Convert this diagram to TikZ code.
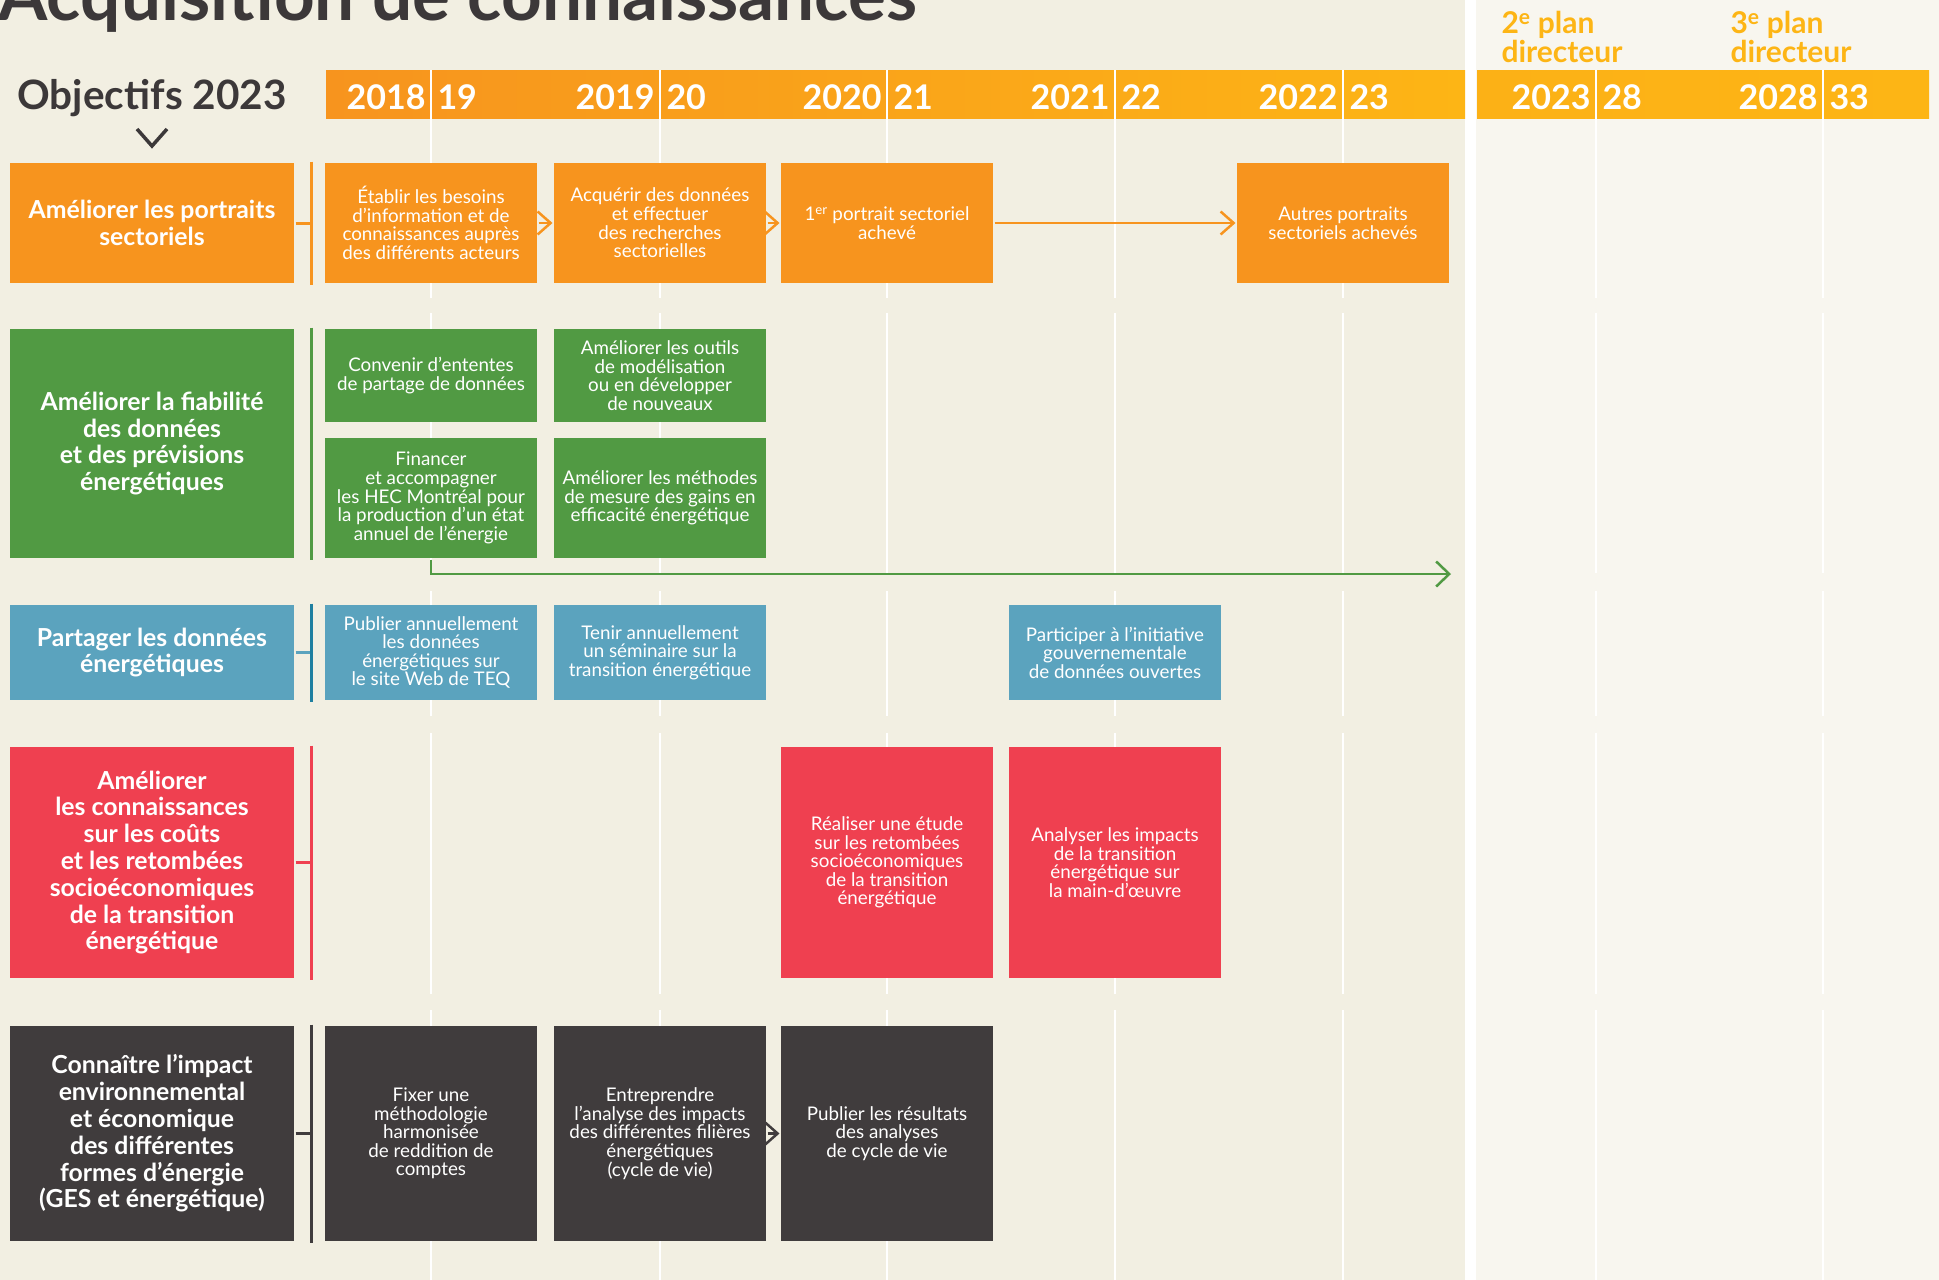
\documentclass[tikz,border=0pt]{standalone}
\usepackage{fontspec}
\setmainfont{Lato}
\usetikzlibrary{arrows.meta}

\definecolor{bgleft}{HTML}{F2EFE2}
\definecolor{bgright}{HTML}{F8F6EF}
\definecolor{teqorange}{HTML}{F7941E}
\definecolor{teqyellow}{HTML}{FDB515}
\definecolor{teqgreen}{HTML}{519A43}
\definecolor{teqblue}{HTML}{5BA3BE}
\definecolor{teqbluedark}{HTML}{1F7FA0}
\definecolor{teqred}{HTML}{EF4050}
\definecolor{teqdark}{HTML}{403C3D}
\definecolor{teqtext}{HTML}{3C3839}

\begin{document}
\begin{tikzpicture}[x=1pt, y=-1pt, line width=3pt,
    objbox/.style={minimum width=284pt, inner sep=0pt, align=center, text=white,
      font=\bfseries\fontsize{24.8}{26.8}\selectfont},
    actbox/.style={minimum width=212pt, inner sep=0pt, align=center, text=white,
      font=\fontsize{18.8}{18.6}\selectfont},
    yearlbl/.style={inner sep=0pt, text=white, font=\bfseries\fontsize{34}{34}\selectfont},
    planlbl/.style={inner sep=0pt, align=left, text=teqyellow, font=\bfseries\fontsize{30}{25}\selectfont},
    chev/.style={-{Straight Barb[length=13pt, width=23pt]}, line width=2.5pt}]

    \useasboundingbox (0,0) rectangle (1939,1280);
    \clip (0,0) rectangle (1939,1280);

    % draw the two backgrounds
    \fill[bgleft] (0,0) rectangle (1465,1280);
    \fill[white] (1465,0) rectangle (1476,1280);
    \fill[bgright] (1476,0) rectangle (1939,1280);

    % draw title and heading
    \node[anchor=base west, inner sep=0pt, text=teqtext, font=\bfseries\fontsize{71}{71}\selectfont]
      (title) at (-3,20) {Acquisition de connaissances};
    \node[anchor=base, inner sep=0pt, text=teqtext, font=\bfseries\fontsize{40.5}{40.5}\selectfont]
      (goals) at (152,109) {Objectifs 2023};
    \draw[teqtext, line width=3.5pt] (137,129) -- (152,146) -- (167,129);
    \node[planlbl, anchor=north west] (plan2) at (1500,10) {2\textsuperscript{e} plan\\directeur};
    \node[planlbl, anchor=north west] (plan3) at (1729,10) {3\textsuperscript{e} plan\\directeur};

    % draw year bars
    \shade[left color=teqorange, right color=teqyellow] (326,70) rectangle (1465,118);
    \shade[left color=teqyellow!88!teqorange, right color=teqyellow] (1477,70) rectangle (1929,118);

    % draw year lines, cut between the rows
    \foreach \xx in {431,660,887,1115,1343,1596,1823} {
      \foreach \ya/\yb in {70/298, 313/573, 591/716, 733/994, 1010/1280} {
        \draw[white, line width=2.5pt] (\xx,\ya) -- (\xx,\yb);
      }
    }

    % draw year labels
    \foreach \xx/\ylong/\yshort in {431/2018/19, 660/2019/20, 887/2020/21, 1115/2021/22,
        1343/2022/23, 1596/2023/28, 1823/2028/33} {
      \node[yearlbl, anchor=base east] (y\ylong) at (\xx-4,109) {\ylong};
      \node[yearlbl, anchor=base west] (s\ylong) at (\xx+5,109) {\yshort};
    }

    % row 1 : portraits sectoriels
    \node[objbox, fill=teqorange, minimum height=120pt] (obj1) at (152,223) {Améliorer les portraits\\sectoriels};
    \node[actbox, fill=teqorange, minimum height=120pt] (a11) at (431,223)
      {Établir les besoins\\d’information et de\\connaissances auprès\\des différents acteurs};
    \node[actbox, fill=teqorange, minimum height=120pt] (a12) at (660,223)
      {Acquérir des données\\et effectuer\\des recherches\\sectorielles};
    \node[actbox, fill=teqorange, minimum height=120pt] (a13) at (887,223)
      {1\textsuperscript{er} portrait sectoriel\\achevé};
    \node[actbox, fill=teqorange, minimum height=120pt] (a14) at (1343,223)
      {Autres portraits\\sectoriels achevés};
    \draw[teqorange] (obj1.east) -- ++(16,0);
    \draw[teqorange] ([xshift=16pt]obj1.north east) -- ([xshift=16pt]obj1.south east);
    \draw[chev, teqorange] (a11.east) -- (a12.west);
    \draw[chev, teqorange] (a12.east) -- (a13.west);
    \draw[chev, teqorange] (a13.east) -- (a14.west);

    % row 2 : fiabilite des donnees
    \node[objbox, fill=teqgreen, minimum height=229pt] (obj2) at (152,443.5)
      {Améliorer la fiabilité\\des données\\et des prévisions\\énergétiques};
    \node[actbox, fill=teqgreen, minimum height=93pt] (a21) at (431,375.5)
      {Convenir d’ententes\\de partage de données};
    \node[actbox, fill=teqgreen, minimum height=93pt] (a22) at (660,375.5)
      {Améliorer les outils\\de modélisation\\ou en développer\\de nouveaux};
    \node[actbox, fill=teqgreen, minimum height=120pt] (a23) at (431,498)
      {Financer\\et accompagner\\les HEC Montréal pour\\la production d’un état\\annuel de l’énergie};
    \node[actbox, fill=teqgreen, minimum height=120pt] (a24) at (660,498)
      {Améliorer les méthodes\\de mesure des gains en\\efficacité énergétique};
    \coordinate (g2end) at (1451,574);
    \draw[teqgreen] ([xshift=16pt]obj2.north east) -- ([xshift=16pt]obj2.south east);
    \draw[chev, teqgreen, -{Straight Barb[length=13pt, width=25pt]}] (a23.south) |- (g2end);

    % row 3 : partage des donnees
    \node[objbox, fill=teqblue, minimum height=95pt] (obj3) at (152,652.5)
      {Partager les données\\énergétiques};
    \node[actbox, fill=teqblue, minimum height=95pt] (a31) at (431,652.5)
      {Publier annuellement\\les données\\énergétiques sur\\le site Web de TEQ};
    \node[actbox, fill=teqblue, minimum height=95pt] (a32) at (660,652.5)
      {Tenir annuellement\\un séminaire sur la\\transition énergétique};
    \node[actbox, fill=teqblue, minimum height=95pt] (a33) at (1115,652.5)
      {Participer à l’initiative\\gouvernementale\\de données ouvertes};
    \draw[teqblue] (obj3.east) -- ++(16,0);
    \draw[teqbluedark] ([xshift=16pt]obj3.north east) -- ([xshift=16pt]obj3.south east);

    % row 4 : couts et retombees
    \node[objbox, fill=teqred, minimum height=231pt] (obj4) at (152,862.5)
      {Améliorer\\les connaissances\\sur les coûts\\et les retombées\\socioéconomiques\\de la transition\\énergétique};
    \node[actbox, fill=teqred, minimum height=231pt] (a41) at (887,862.5)
      {Réaliser une étude\\sur les retombées\\socioéconomiques\\de la transition\\énergétique};
    \node[actbox, fill=teqred, minimum height=231pt] (a42) at (1115,862.5)
      {Analyser les impacts\\de la transition\\énergétique sur\\la main-d’œuvre};
    \draw[teqred] (obj4.east) -- ++(16,0);
    \draw[teqred] ([xshift=16pt]obj4.north east) -- ([xshift=16pt]obj4.south east);

    % row 5 : impact environnemental
    \node[objbox, fill=teqdark, minimum height=215pt] (obj5) at (152,1133.5)
      {Connaître l’impact\\environnemental\\et économique\\des différentes\\formes d’énergie\\(GES et énergétique)};
    \node[actbox, fill=teqdark, minimum height=215pt] (a51) at (431,1133.5)
      {Fixer une\\méthodologie\\harmonisée\\de reddition de\\comptes};
    \node[actbox, fill=teqdark, minimum height=215pt] (a52) at (660,1133.5)
      {Entreprendre\\l’analyse des impacts\\des différentes filières\\énergétiques\\(cycle de vie)};
    \node[actbox, fill=teqdark, minimum height=215pt] (a53) at (887,1133.5)
      {Publier les résultats\\des analyses\\de cycle de vie};
    \draw[teqdark] (obj5.east) -- ++(16,0);
    \draw[teqdark] ([xshift=16pt]obj5.north east) -- ([xshift=16pt]obj5.south east);
    \draw[chev, teqdark] (a52.east) -- (a53.west);

\end{tikzpicture}
\end{document}
